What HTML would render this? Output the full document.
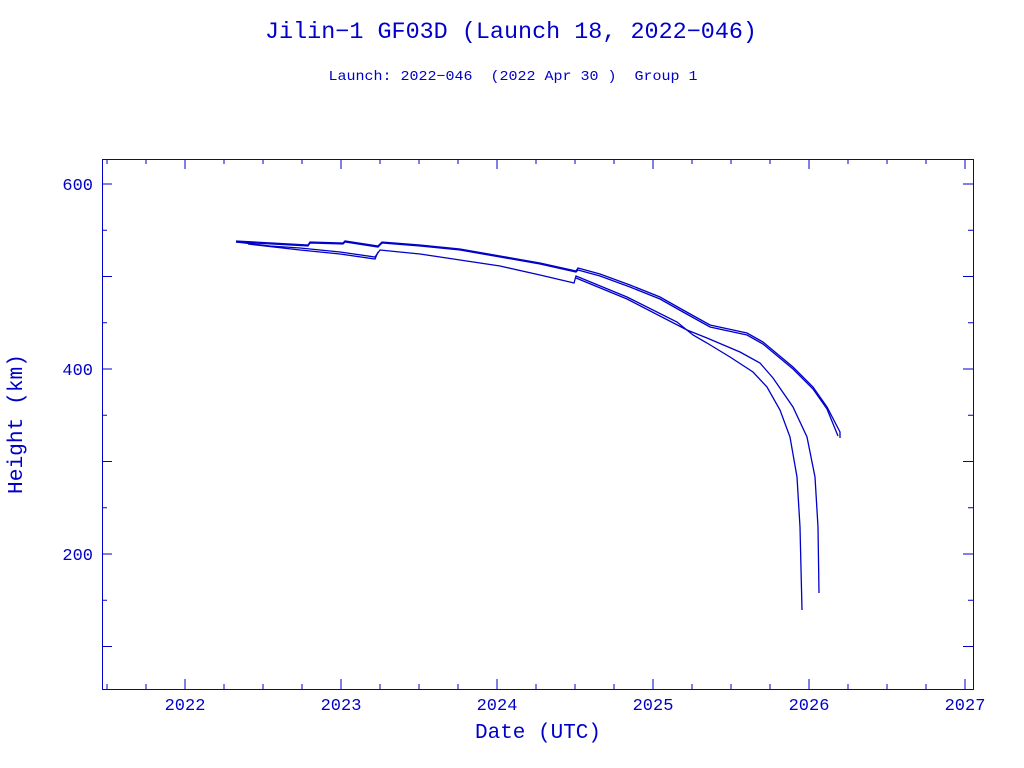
<!DOCTYPE html>
<html><head><style>
body{margin:0;background:#fff;}
svg{display:block;font-family:"Liberation Mono",monospace;fill:#0000c8;}
</style></head><body>
<svg width="1024" height="768" viewBox="0 0 1024 768" xmlns="http://www.w3.org/2000/svg">
<text x="511" y="38" font-size="23" text-anchor="middle" textLength="492" lengthAdjust="spacingAndGlyphs">Jilin−1 GF03D (Launch 18, 2022−046)</text>
<text x="513" y="80" font-size="14" text-anchor="middle" textLength="369" lengthAdjust="spacingAndGlyphs" xml:space="preserve">Launch: 2022−046  (2022 Apr 30 )  Group 1</text>
<g stroke="#0000c8" fill="none" stroke-width="1">
<rect x="102.5" y="159.5" width="871" height="530"/>
</g>
<g stroke="#0000c8" stroke-width="1" id="ticks"></g>
<g font-size="17" text-anchor="middle">
<text x="185" y="710">2022</text><text x="341" y="710">2023</text><text x="497" y="710">2024</text>
<text x="653" y="710">2025</text><text x="809" y="710">2026</text><text x="965" y="710">2027</text>
</g>
<g font-size="17" text-anchor="end">
<text x="93" y="190">600</text><text x="93" y="375">400</text><text x="93" y="560">200</text>
</g>
<text x="538" y="738" font-size="21" text-anchor="middle" textLength="126" lengthAdjust="spacingAndGlyphs">Date (UTC)</text>
<text transform="translate(22,424) rotate(-90)" font-size="21" text-anchor="middle" textLength="140" lengthAdjust="spacingAndGlyphs">Height (km)</text>
<g stroke="#0000c8" fill="none" stroke-width="1.3">
<polyline points="236,241 308,245 310,242 343,243 345,241 378,246 382,242 420,245 460,249 500,256 540,263 576,271 578,268 600,274 630,285 660,297 683,310 710,325 747,333 763,342 793,367 813,387 827,407 840,432 840,438"/>
<polyline points="236,242 308,246 310,243 343,244 345,242 378,247 382,243 420,246 460,250 500,257 540,264 576,272 578,270 600,276 630,287 660,299 683,312 710,327 747,335 763,344 793,369 813,389 827,409 838,436"/>
<polyline points="236,242 270,246 300,248 340,252 375,257 380,250 420,254 460,260 500,266 540,275 574,283 576,276 627,297 677,322 693,335 707,343 730,357 753,372 767,387 780,410 790,437 797,477 800,527 802,610"/>
<polyline points="576,278 627,299 687,330 707,338 740,352 760,363 773,378 793,407 807,437 815,477 818,527 819,593"/>
<polyline points="248,244 300,250 340,254 375,259 378,252"/>
</g>
</svg>
<script>
var g=document.getElementById('ticks'),s='';
function L(a,b,c,d){s+='<line x1="'+a+'" y1="'+b+'" x2="'+c+'" y2="'+d+'"/>';}
for(var v=100;v<=600;v+=50){var y=369-(v-400)*0.925;var l=(v%100==0)?10:5;L(102,y,102+l,y);L(973,y,973-l,y);}
for(var t=2021.5;t<=2027.01;t+=0.25){var x=185+(t-2022)*156;if(x<103||x>972)continue;var l=(Math.abs(t-Math.round(t))<0.01)?10:5;L(x,689,x,689-l);L(x,159,x,159+l);}
g.innerHTML=s;
</script>
</body></html>
